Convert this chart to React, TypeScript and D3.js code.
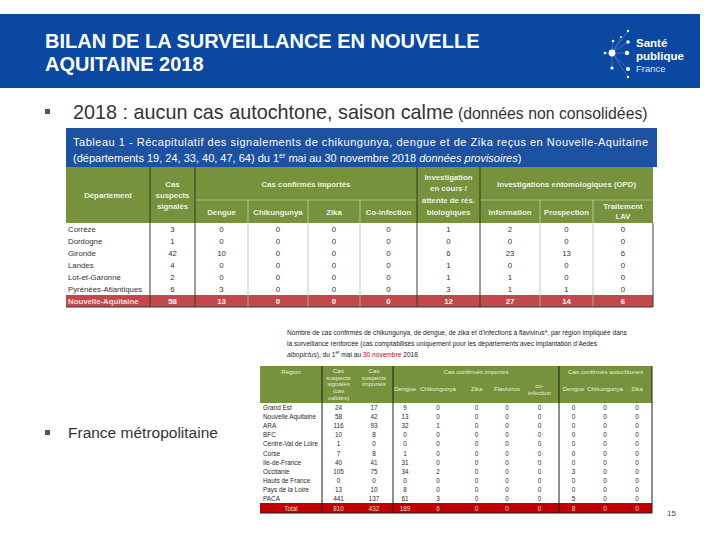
import * as d3 from "d3";

// ---- Tableau 1 : Nouvelle-Aquitaine par département ----
const departements = ["Corrèze", "Dordogne", "Gironde", "Landes", "Lot-et-Garonne", "Pyrénées-Atlantiques"];
const casSuspects = [3, 1, 42, 4, 2, 6];
const dengue = [0, 0, 10, 0, 0, 3];
const chikungunya = [0, 0, 0, 0, 0, 0];
const zika = [0, 0, 0, 0, 0, 0];
const coInfection = [0, 0, 0, 0, 0, 0];
const investigation = [1, 0, 6, 1, 1, 3];
const information = [2, 0, 23, 0, 1, 1];
const prospection = [0, 0, 13, 0, 0, 1];
const traitementLAV = [0, 0, 6, 0, 0, 0];
const totalLabel1 = "Nouvelle-Aquitaine";
const totalValues1 = [58, 13, 0, 0, 0, 12, 27, 14, 6];

// ---- Tableau 2 : France métropolitaine par région ----
const regions = [
  "Grand Est", "Nouvelle Aquitaine", "ARA", "BFC", "Centre-Val de Loire", "Corse",
  "Ile-de-France", "Occitanie", "Hauts de France", "Pays de la Loire", "PACA",
];
const suspSignales = [24, 58, 116, 10, 1, 7, 40, 105, 0, 13, 441];
const suspImportes = [17, 42, 93, 8, 0, 8, 41, 75, 0, 10, 137];
const impDengue = [9, 13, 32, 0, 0, 1, 31, 34, 0, 8, 61];
const impChik = [0, 0, 1, 0, 0, 0, 0, 2, 0, 0, 3];
const impZika = [0, 0, 0, 0, 0, 0, 0, 0, 0, 0, 0];
const impFlavi = [0, 0, 0, 0, 0, 0, 0, 0, 0, 0, 0];
const impCoinf = [0, 0, 0, 0, 0, 0, 0, 0, 0, 0, 0];
const autoDengue = [0, 0, 0, 0, 0, 0, 0, 3, 0, 0, 5];
const autoChik = [0, 0, 0, 0, 0, 0, 0, 0, 0, 0, 0];
const autoZika = [0, 0, 0, 0, 0, 0, 0, 0, 0, 0, 0];
const totalValues2 = [810, 432, 189, 6, 0, 0, 0, 8, 0, 0];

const FONT = "'Liberation Sans', Arial, sans-serif";
const BLUE = "#0b48a2";
const GREEN = "#76923c";
const HEAD_TXT = "#eef1e2";
const DARK = "#3a3a3a";

function Logo() {
  const dots = [
    [613, 41, 1.3], [621, 37, 1.0], [628, 31, 1.2], [628, 42, 1.8], [605, 53, 1.3],
    [612, 53, 3.4], [627, 53, 2.2], [612, 68, 1.6], [628, 69, 2.0], [628, 77, 1.2],
  ];
  return (
    <g>
      {dots.map(([x, y], i) => (
        <line key={"l" + i} x1={612} y1={53} x2={x} y2={y} stroke="#6f93d0" strokeWidth={0.5} />
      ))}
      {dots.map(([x, y, r], i) => (
        <circle key={i} cx={x} cy={y} r={r} fill="#fff" />
      ))}
      <text x={636} y={47} fill="#fff" fontSize={11.5} fontWeight="bold" fontFamily={FONT}>Santé</text>
      <text x={636} y={60} fill="#fff" fontSize={11.5} fontWeight="bold" fontFamily={FONT}>publique</text>
      <text x={636} y={72} fill="#dfe8f7" fontSize={9.5} fontFamily={FONT}>France</text>
    </g>
  );
}

function Table1() {
  const edges = [66, 150, 195, 248, 308, 360, 417, 480, 540, 593, 653];
  const cols = d3.pairs(edges);
  const cx = cols.map(([a, b]) => (a + b) / 2);
  const headTop = 167, headMid = 200, headBot = 223;
  const y = d3.scaleBand<string>().domain(departements).range([headBot, 295]);
  const totalTop = 295, totalBot = 307;
  const series = [casSuspects, dengue, chikungunya, zika, coInfection, investigation, information, prospection, traitementLAV];
  const darkCols = new Set([1, 2, 6, 7, 10]);
  const hs = { fill: HEAD_TXT, fontSize: 7.8, fontWeight: "bold", fontFamily: FONT, textAnchor: "middle" as const, dominantBaseline: "central" as const };
  const ds = { fill: "#333", fontSize: 7.8, fontFamily: FONT, textAnchor: "middle" as const, dominantBaseline: "central" as const };

  return (
    <g>
      {/* title bar */}
      <rect x={66} y={128} width={591} height={39} fill="#1d52a3" />
      <text x={73} y={146} fill="#fff" fontSize={11} fontFamily={FONT} textLength={575} lengthAdjust="spacing">
        Tableau 1 - Récapitulatif des signalements de chikungunya, dengue et de Zika reçus en Nouvelle-Aquitaine
      </text>
      <text x={73} y={162} fill="#fff" fontSize={11} fontFamily={FONT}>
        (départements 19, 24, 33, 40, 47, 64) du 1
        <tspan fontSize={7} dy={-4}>er</tspan>
        <tspan dy={4}> mai au 30 novembre 2018 </tspan>
        <tspan fontStyle="italic">données provisoires</tspan>)
      </text>

      {/* header */}
      <rect x={66} y={headTop} width={587} height={headBot - headTop} fill={GREEN} />
      <line x1={edges[2]} x2={edges[6]} y1={headMid} y2={headMid} stroke="#b9c79a" strokeWidth={0.8} />
      <line x1={edges[7]} x2={edges[10]} y1={headMid} y2={headMid} stroke="#b9c79a" strokeWidth={0.8} />
      {[3, 4, 5, 8, 9].map((i) => (
        <line key={i} x1={edges[i]} x2={edges[i]} y1={headMid} y2={headBot} stroke="#c9d4ad" strokeWidth={0.8} />
      ))}
      {[1, 2, 6, 7].map((i) => (
        <line key={i} x1={edges[i]} x2={edges[i]} y1={headTop} y2={headBot} stroke="#2f3a1a" strokeWidth={1} />
      ))}
      <text x={cx[0]} y={195} {...hs}>Département</text>
      {["Cas", "suspects", "signalés"].map((t, i) => (
        <text key={t} x={cx[1]} y={184 + i * 11} {...hs}>{t}</text>
      ))}
      <text x={(edges[2] + edges[6]) / 2} y={184} {...hs}>Cas confirmés importés</text>
      {["Dengue", "Chikungunya", "Zika", "Co-infection"].map((t, i) => (
        <text key={t} x={cx[2 + i]} y={212} {...hs}>{t}</text>
      ))}
      {["Investigation", "en cours /", "attente de rés.", "biologiques"].map((t, i) => (
        <text key={t} x={cx[6]} y={177 + i * 11.7} {...hs}>{t}</text>
      ))}
      <text x={(edges[7] + edges[10]) / 2} y={184} {...hs}>Investigations entomologiques (OPD)</text>
      <text x={cx[7]} y={212} {...hs}>Information</text>
      <text x={cx[8]} y={212} {...hs}>Prospection</text>
      <text x={cx[9]} y={206} {...hs}>Traitement</text>
      <text x={cx[9]} y={216.5} {...hs}>LAV</text>

      {/* body */}
      <rect x={66} y={totalTop} width={587} height={totalBot - totalTop} fill="#c2484b" />
      {edges.slice(1).map((e, i) => (
        <line key={i} x1={e} x2={e} y1={headBot} y2={totalBot}
          stroke={darkCols.has(i + 1) ? DARK : "#b8b8b8"} strokeWidth={darkCols.has(i + 1) ? 1 : 0.8} />
      ))}
      <line x1={66} x2={653} y1={totalBot} y2={totalBot} stroke={DARK} strokeWidth={1} />
      {departements.map((d, r) => (
        <g key={d}>
          <text x={68} y={y(d)! + y.bandwidth() / 2} {...ds} textAnchor="start">{d}</text>
          {series.map((s, c) => (
            <text key={c} x={cx[c + 1]} y={y(d)! + y.bandwidth() / 2} {...ds}>{s[r]}</text>
          ))}
        </g>
      ))}
      <text x={68} y={(totalTop + totalBot) / 2} {...ds} textAnchor="start" fill="#f6dede" fontWeight="bold">{totalLabel1}</text>
      {totalValues1.map((v, c) => (
        <text key={c} x={cx[c + 1]} y={(totalTop + totalBot) / 2} {...ds} fill="#fff" fontWeight="bold">{v}</text>
      ))}
    </g>
  );
}

function Table2() {
  const edges = [260, 322, 355, 393, 417, 459, 494, 520, 559, 588, 622, 652];
  const cols = d3.pairs(edges);
  const cx = cols.map(([a, b]) => (a + b) / 2);
  const headTop = 366, headBot = 403;
  const y = d3.scaleBand<string>().domain(regions).range([headBot, 503]);
  const totalTop = 503, totalBot = 513;
  const series = [suspSignales, suspImportes, impDengue, impChik, impZika, impFlavi, impCoinf, autoDengue, autoChik, autoZika];
  const hs = { fill: "#e9eddc", fontSize: 6.2, fontFamily: FONT, textAnchor: "middle" as const, dominantBaseline: "central" as const };
  const ds = { fill: "#2a2a2a", fontSize: 6.4, fontFamily: FONT, textAnchor: "middle" as const, dominantBaseline: "central" as const };
  const ts = { fill: "#222", fontSize: 6.6, fontFamily: FONT };

  return (
    <g>
      <text x={287} y={335} {...ts}>
        Nombre de cas confirmés de chikungunya, de dengue, de zika et d’infections à flavivirus*, par région impliquée dans
      </text>
      <text x={287} y={346} {...ts}>
        la surveillance renforcée (cas comptabilisés uniquement pour les départements avec implantation d’Aedes
      </text>
      <text x={287} y={356.5} {...ts}>
        <tspan fontStyle="italic">albopictus</tspan>), du 1
        <tspan fontSize={4.5} dy={-2.5}>er</tspan>
        <tspan dy={2.5}> mai au </tspan>
        <tspan fill="#d0021b">30 novembre</tspan> 2018
      </text>

      <rect x={260} y={headTop} width={392} height={headBot - headTop} fill={GREEN} />
      <text x={cx[0]} y={371} {...hs}>Région</text>
      {["Cas", "suspects", "signalés", "(cas", "validés)"].map((t, i) => (
        <text key={t} x={cx[1]} y={370.5 + i * 6.7} {...hs}>{t}</text>
      ))}
      {["Cas", "suspects", "importés"].map((t, i) => (
        <text key={t} x={cx[2]} y={370.5 + i * 6.7} {...hs}>{t}</text>
      ))}
      <text x={(edges[3] + edges[8]) / 2} y={371} {...hs}>Cas confirmés importés</text>
      <text x={(edges[8] + edges[11]) / 2} y={371} {...hs}>Cas confirmés autochtones</text>
      {["Dengue", "Chikungunya", "Zika", "Flavivirus"].map((t, i) => (
        <text key={t} x={cx[3 + i]} y={388} {...hs}>{t}</text>
      ))}
      <text x={cx[7]} y={385} {...hs}>co-</text>
      <text x={cx[7]} y={392} {...hs}>infection</text>
      {["Dengue", "Chikungunya", "Zika"].map((t, i) => (
        <text key={t} x={cx[8 + i]} y={388} {...hs}>{t}</text>
      ))}

      <rect x={260} y={totalTop} width={392} height={totalBot - totalTop} fill="#c00000" />
      {[322, 393, 559, 652].map((e) => (
        <line key={e} x1={e} x2={e} y1={headTop} y2={totalBot} stroke="#1d1d1d" strokeWidth={1} />
      ))}
      <line x1={260} x2={652} y1={totalBot} y2={totalBot} stroke="#1d1d1d" strokeWidth={1} />
      {regions.map((d, r) => (
        <g key={d}>
          <text x={263} y={y(d)! + y.bandwidth() / 2} {...ds} textAnchor="start">{d}</text>
          {series.map((s, c) => (
            <text key={c} x={cx[c + 1]} y={y(d)! + y.bandwidth() / 2} {...ds}>{s[r]}</text>
          ))}
        </g>
      ))}
      <text x={cx[0]} y={(totalTop + totalBot) / 2} {...ds} fill="#f4d6d6">Total</text>
      {totalValues2.map((v, c) => (
        <text key={c} x={cx[c + 1]} y={(totalTop + totalBot) / 2} {...ds} fill="#f4d6d6">{v}</text>
      ))}
    </g>
  );
}

export default function App() {
  return (
    <svg width={720} height={540} viewBox="0 0 720 540"
      style={{ position: "absolute", left: 0, top: 0, background: "#fff" }}>
      {/* header band */}
      <rect x={0} y={14} width={700} height={74} fill={BLUE} />
      <text x={45} y={48} fill="#fff" fontSize={20} fontWeight="bold" fontFamily={FONT}>
        BILAN DE LA SURVEILLANCE EN NOUVELLE
      </text>
      <text x={45} y={71} fill="#fff" fontSize={20} fontWeight="bold" fontFamily={FONT}>
        AQUITAINE 2018
      </text>
      <Logo />

      {/* bullet 1 */}
      <rect x={45} y={109} width={5} height={5} fill="#555" />
      <text x={73} y={119} fill="#333" fontSize={19.8} fontFamily={FONT}>
        2018 : aucun cas autochtone, saison calme
        <tspan fontSize={15.8}> (données non consolidées)</tspan>
      </text>

      <Table1 />

      {/* bullet 2 */}
      <rect x={45} y={430} width={5} height={5} fill="#555" />
      <text x={68} y={438} fill="#333" fontSize={15.5} fontFamily={FONT}>France métropolitaine</text>

      <Table2 />

      <text x={667} y={516} fill="#444" fontSize={8} fontFamily={FONT}>15</text>
    </svg>
  );
}
